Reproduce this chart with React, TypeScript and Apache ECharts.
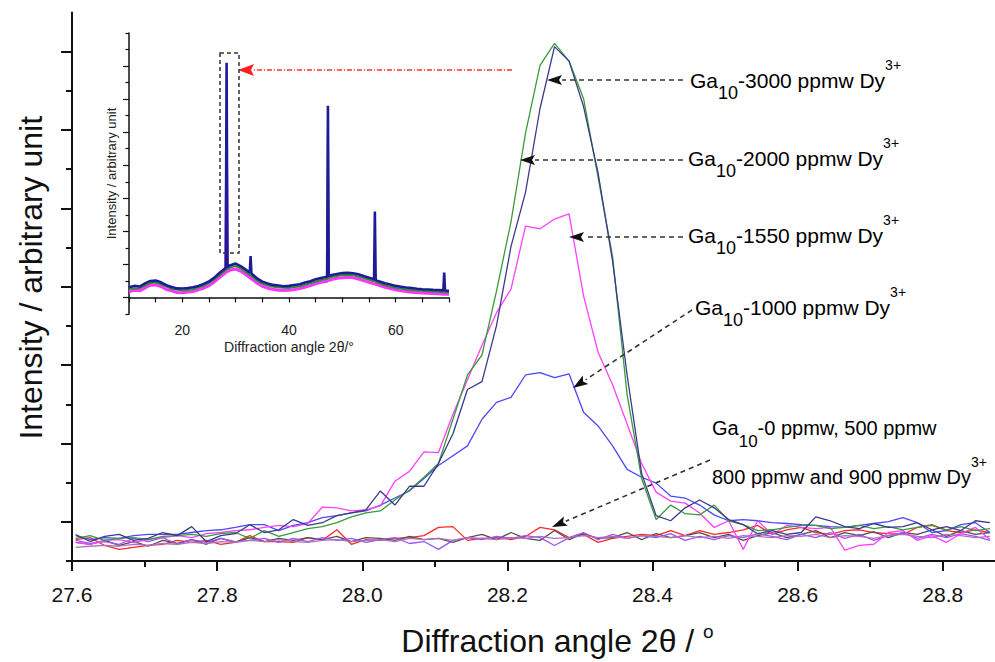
import React, { useEffect, useRef } from "react";
import * as echarts from "echarts";

// 2θ sampling of the main (zoomed) pattern, degrees
const angle = [
  27.605, 27.625, 27.645, 27.665, 27.685, 27.705, 27.725, 27.745, 27.765, 27.785,
  27.805, 27.825, 27.845, 27.865, 27.885, 27.905, 27.925, 27.945, 27.965, 27.985,
  28.005, 28.025, 28.045, 28.065, 28.085, 28.105, 28.125, 28.145, 28.165, 28.185,
  28.205, 28.225, 28.245, 28.265, 28.285, 28.305, 28.325, 28.345, 28.365, 28.385,
  28.405, 28.425, 28.445, 28.465, 28.485, 28.505, 28.525, 28.545, 28.565, 28.585,
  28.605, 28.625, 28.645, 28.665, 28.685, 28.705, 28.725, 28.745, 28.765, 28.785,
  28.805, 28.825, 28.845, 28.865,
];

// intensities (arbitrary units)
const ga3000 = [
  580, 650, 530, 580, 600, 550, 630, 650, 680, 630,
  700, 730, 580, 780, 630, 730, 830, 880, 980, 1130,
  1230, 1280, 1560, 1810, 2140, 2490, 3620, 4750, 5260, 6890,
  8660, 10920, 12650, 13210, 12760, 11800, 9790, 7770, 4250, 2110,
  1060, 1430, 1210, 1180, 1430, 1030, 930, 780, 800, 860,
  910, 910, 830, 860, 910, 830, 880, 800, 860, 910,
  800, 880, 780, 830,
];
const ga2000 = [
  680, 500, 630, 680, 530, 580, 730, 650, 880, 500,
  650, 700, 930, 730, 800, 1060, 910, 980, 1160, 1230,
  1310, 1790, 1430, 1910, 1910, 2490, 3250, 4380, 4580, 6010,
  8030, 9410, 11550, 13130, 12760, 11600, 9910, 7650, 4750, 2240,
  1160, 1030, 1360, 1560, 1360, 1060, 930, 700, 780, 680,
  730, 1130, 1030, 880, 830, 960, 860, 880, 980, 800,
  880, 780, 1030, 980,
];
const ga1550 = [
  480, 430, 530, 550, 480, 550, 600, 650, 600, 700,
  730, 780, 800, 860, 910, 880, 960, 1380, 1360, 1280,
  1310, 1410, 2040, 2290, 2790, 2770, 3750, 4630, 5510, 6340,
  6940, 8550, 8480, 8730, 8860, 6770, 5330, 4500, 3500, 2490,
  1760, 1530, 1480, 1230, 860, 1030, 300, 1030, 680, 910,
  860, 830, 860, 280, 400, 430, 730, 780, 530, 650,
  480, 700, 860, 550,
];
const ga1000 = [
  650, 550, 600, 580, 650, 680, 680, 680, 730, 780,
  800, 860, 930, 930, 780, 910, 980, 1110, 1160, 1230,
  1280, 1430, 1610, 1790, 2110, 2440, 2690, 2940, 3620, 4050,
  4180, 4750, 4810, 4680, 4780, 3800, 3450, 2940, 2340, 2140,
  1990, 1660, 1610, 1430, 1180, 1030, 1060, 1030, 980, 960,
  930, 910, 880, 860, 910, 960, 1010, 1110, 980, 730,
  780, 930, 980, 730,
];
const ga0 = [
  550, 600, 400, 300, 350, 400, 430, 530, 480, 530,
  430, 480, 650, 500, 500, 480, 600, 530, 800, 430,
  550, 530, 580, 600, 650, 860, 880, 530, 580, 600,
  550, 630, 860, 800, 600, 680, 480, 580, 630, 680,
  650, 780, 650, 780, 680, 730, 800, 910, 680, 800,
  860, 730, 680, 780, 800, 730, 700, 680, 860, 930,
  780, 730, 800, 730,
];
const ga500 = [
  480, 430, 530, 400, 500, 380, 530, 450, 550, 430,
  580, 480, 600, 500, 580, 530, 600, 550, 630, 500,
  600, 580, 530, 630, 550, 580, 480, 600, 680, 550,
  730, 580, 530, 780, 550, 700, 580, 600, 730, 550,
  700, 600, 650, 730, 600, 680, 530, 650, 730, 600,
  680, 780, 600, 730, 650, 750, 600, 730, 680, 800,
  630, 780, 680, 730,
];
const ga800 = [
  530, 450, 500, 430, 580, 500, 600, 430, 550, 480,
  580, 500, 530, 580, 480, 580, 500, 600, 530, 580,
  480, 550, 600, 450, 500, 300, 530, 600, 550, 630,
  580, 650, 600, 400, 600, 730, 550, 680, 580, 650,
  600, 700, 530, 630, 550, 650, 600, 700, 630, 550,
  680, 600, 730, 580, 680, 530, 650, 730, 580, 680,
  600, 700, 630, 530,
];
const ga900 = [
  350, 380, 400, 380, 430, 400, 450, 430, 480, 450,
  500, 480, 530, 500, 550, 500, 480, 530, 550, 500,
  530, 550, 500, 580, 550, 580, 530, 600, 580, 550,
  600, 580, 630, 580, 600, 650, 600, 630, 580, 650,
  630, 600, 650, 600, 630, 580, 650, 630, 600, 650,
  630, 680, 600, 650, 630, 580, 650, 680, 630, 600,
  680, 650, 600, 630,
];

// tick values
const xTickMajor = [27.6, 27.8, 28.0, 28.2, 28.4, 28.6, 28.8];
const xTickMinor = [27.7, 27.9, 28.1, 28.3, 28.5, 28.7];
const yTickMajor = [1000, 3000, 5000, 7000, 9000, 11000, 13000];
const yTickMinor = [0, 2000, 4000, 6000, 8000, 10000, 12000];

// inset: full-range pattern, [2θ, intensity]
const insetNavy = [
  [10, 0.62], [11, 0.7], [12, 0.66], [13, 0.85], [14, 1.0], [15, 1.02], [16, 0.92], [17, 0.74],
  [18, 0.64], [19, 0.55], [20, 0.54], [21, 0.57], [22, 0.62], [23, 0.7], [24, 0.82], [25, 0.97],
  [26, 1.2], [27, 1.5], [28, 1.75], [28.15, 1.8], [28.3, 14.2], [28.45, 1.85], [29, 1.95], [30, 2.05],
  [31, 1.88], [32, 1.66], [32.65, 1.5], [32.8, 2.5], [32.95, 1.45], [33, 1.42], [34, 1.16], [35, 0.96],
  [36, 0.84], [37, 0.76], [38, 0.72], [39, 0.68], [40, 0.7], [41, 0.75], [42, 0.8], [43, 0.9],
  [44, 0.98], [45, 1.1], [46, 1.18], [47.15, 1.25], [47.3, 11.6], [47.45, 1.3], [48, 1.36], [49, 1.42],
  [50, 1.48], [51, 1.5], [52, 1.47], [53, 1.4], [54, 1.3], [55, 1.2], [55.95, 1.1], [56.1, 5.2],
  [56.25, 1.05], [57, 0.96], [58, 0.86], [59, 0.78], [60, 0.7], [61, 0.65], [62, 0.6], [63, 0.57],
  [64, 0.53], [65, 0.5], [66, 0.48], [67, 0.46], [68, 0.45], [68.95, 0.43], [69.1, 1.5], [69.25, 0.42],
  [70, 0.4],
];
const insetGreen = [
  [10, 0.52], [12, 0.56], [14, 0.88], [15, 0.9], [16, 0.8], [18, 0.52], [20, 0.42], [22, 0.5],
  [24, 0.7], [26, 1.08], [27, 1.36], [28, 1.62], [28.15, 1.66], [28.3, 8.5], [28.45, 1.72], [29, 1.82],
  [30, 1.9], [31, 1.74], [32, 1.52], [33, 1.28], [34, 1.04], [35, 0.84], [36, 0.72], [38, 0.6],
  [40, 0.58], [42, 0.68], [44, 0.86], [46, 1.06], [47.15, 1.12], [47.3, 10.3], [47.45, 1.18], [48, 1.24],
  [50, 1.36], [51, 1.38], [52, 1.35], [54, 1.18], [55.95, 0.98], [56.1, 1.8], [56.25, 0.94], [58, 0.74],
  [60, 0.58], [62, 0.48], [64, 0.42], [66, 0.37], [68, 0.34], [70, 0.3],
];
const insetMagenta = [
  [10, 0.36], [11, 0.44], [12, 0.4], [13, 0.58], [14, 0.74], [15, 0.76], [16, 0.66], [17, 0.48],
  [18, 0.4], [19, 0.3], [20, 0.28], [21, 0.33], [22, 0.36], [23, 0.46], [24, 0.56], [25, 0.72],
  [26, 0.94], [27, 1.22], [28, 1.46], [28.15, 1.5], [28.3, 7.9], [28.45, 1.55], [29, 1.66], [30, 1.72],
  [31, 1.58], [32, 1.36], [33, 1.12], [34, 0.88], [35, 0.68], [36, 0.56], [37, 0.5], [38, 0.44],
  [39, 0.42], [40, 0.44], [41, 0.48], [42, 0.54], [43, 0.62], [44, 0.72], [45, 0.82], [46, 0.92],
  [47.15, 0.98], [47.3, 2.6], [47.45, 1.02], [48, 1.08], [49, 1.16], [50, 1.2], [51, 1.22], [52, 1.2],
  [53, 1.12], [54, 1.02], [55, 0.92], [56, 0.82], [57, 0.72], [58, 0.62], [59, 0.54], [60, 0.46],
  [61, 0.4], [62, 0.36], [63, 0.32], [64, 0.3], [65, 0.27], [66, 0.25], [67, 0.24], [68, 0.22],
  [69, 0.2], [70, 0.19],
];
const insetYMajor = [0, 2, 4, 6, 8, 10, 12, 14];
const insetYMinor = [-1, 1, 3, 5, 7, 9, 11, 13, 15, 16];
const insetXLabels = [20, 40, 60];

const FONT = "Liberation Sans, Arial, Helvetica, sans-serif";

const mainSeries = [
  { name: "0 ppmw", data: ga0, color: "#ff2a2a" },
  { name: "500 ppmw", data: ga500, color: "#505050" },
  { name: "800 ppmw", data: ga800, color: "#9a55f2" },
  { name: "900 ppmw", data: ga900, color: "#b070c0" },
  { name: "1000 ppmw", data: ga1000, color: "#4a4af5" },
  { name: "1550 ppmw", data: ga1550, color: "#ff40ff" },
  { name: "3000 ppmw", data: ga3000, color: "#3a9a3a" },
  { name: "2000 ppmw", data: ga2000, color: "#3a3a8c" },
];

const annotations = [
  { x: 690, y: 80, conc: "-3000 ppmw Dy" },
  { x: 688, y: 158, conc: "-2000 ppmw Dy" },
  { x: 688, y: 235, conc: "-1550 ppmw Dy" },
  { x: 695, y: 307, conc: "-1000 ppmw Dy" },
];

const makeRich = (size: number) => ({
  n: { fontSize: size, fontFamily: FONT, color: "#111", lineHeight: 44, verticalAlign: "middle" },
  s: { fontSize: size - 3, fontFamily: FONT, color: "#111", lineHeight: 22, verticalAlign: "bottom" },
  p: { fontSize: 14, fontFamily: FONT, color: "#111", lineHeight: 18, verticalAlign: "top" },
});

function arrowHead(tip: number[], from: number[], len: number, half: number, red: boolean) {
  const dx = from[0] - tip[0];
  const dy = from[1] - tip[1];
  const d = Math.sqrt(dx * dx + dy * dy);
  const ux = dx / d;
  const uy = dy / d;
  const bx = tip[0] + ux * len;
  const by = tip[1] + uy * len;
  return [
    {
      type: "polygon",
      shape: { points: [tip, [bx - uy * half, by + ux * half], [bx - ux * 3, by - uy * 3], [bx + uy * half, by - ux * half]] },
      style: { fill: red ? "#ff2020" : "#111" },
      z: 100,
    },
    {
      type: "line",
      shape: { x1: from[0], y1: from[1], x2: bx, y2: by },
      style: { stroke: red ? "#ff3030" : "#333", lineWidth: 1.6, lineDash: red ? [5, 2, 1, 2] : [5, 4] },
      z: 99,
    },
  ];
}

export default function App() {
  const ref = useRef<HTMLDivElement>(null);
  useEffect(() => {
    if (!ref.current) return;
    const chart = echarts.init(ref.current, undefined, { renderer: "svg" });

    const graphics: any[] = [];
    annotations.forEach((a) => {
      graphics.push({
        type: "text",
        x: a.x,
        y: a.y,
        z: 100,
        style: {
          text: "{n|Ga}{s|10}{n|" + a.conc + "}{p|3+}",
          rich: makeRich(21),
          align: "left",
          verticalAlign: "middle",
        },
      });
    });
    graphics.push({
      type: "text",
      x: 712,
      y: 428,
      z: 100,
      style: { text: "{n|Ga}{s|10}{n|-0 ppmw, 500 ppmw}", rich: makeRich(20), align: "left", verticalAlign: "middle" },
    });
    graphics.push({
      type: "text",
      x: 712,
      y: 477,
      z: 100,
      style: { text: "{n|800 ppmw and 900 ppmw Dy}{p|3+}", rich: makeRich(20), align: "left", verticalAlign: "middle" },
    });
    graphics.push(...arrowHead([547, 80], [683, 80], 15, 5, false));
    graphics.push(...arrowHead([520, 160], [683, 160], 15, 5, false));
    graphics.push(...arrowHead([569, 237], [683, 237], 15, 5, false));
    graphics.push(...arrowHead([573, 388], [692, 310], 15, 5, false));
    graphics.push(...arrowHead([552, 527], [710, 460], 15, 5, false));
    graphics.push(...arrowHead([238, 70], [512, 70], 16, 6, true));
    graphics.push({
      type: "rect",
      shape: { x: 220, y: 53, width: 19, height: 200 },
      style: { fill: "none", stroke: "#333", lineWidth: 1.5, lineDash: [4, 3] },
      z: 100,
    });

    const axisLineStyle = { color: "#111", width: 2 };

    chart.setOption({
      animation: false,
      backgroundColor: "#fff",
      graphic: graphics,
      grid: [
        { left: 72, top: 12.5, width: 923, height: 562.5 },
        { left: 129, top: 33, width: 320, height: 281 },
      ],
      xAxis: [
        {
          type: "value",
          gridIndex: 0,
          position: "bottom",
          min: 27.6,
          max: 28.872,
          axisLine: { lineStyle: axisLineStyle },
          axisTick: { customValues: xTickMajor, length: 10, lineStyle: { color: "#111", width: 2 } },
          axisLabel: {
            customValues: xTickMajor,
            formatter: (v: number) => v.toFixed(1),
            fontSize: 21,
            fontFamily: FONT,
            color: "#111",
            margin: 17,
          },
          splitLine: { show: false },
          name: "{a|Diffraction angle 2θ / }{s|o}",
          nameLocation: "middle",
          nameGap: 55,
          nameTextStyle: {
            padding: [0, 0, 0, 48],
            rich: {
              a: { fontSize: 32, fontFamily: FONT, color: "#111", lineHeight: 38, verticalAlign: "middle" },
              s: { fontSize: 19, fontFamily: FONT, color: "#111", lineHeight: 20, verticalAlign: "top" },
            },
          },
        },
        {
          type: "value",
          gridIndex: 0,
          position: "bottom",
          min: 27.6,
          max: 28.872,
          axisLine: { show: false },
          axisTick: { customValues: xTickMinor, length: 6, lineStyle: { color: "#111", width: 2 } },
          axisLabel: { show: false },
          splitLine: { show: false },
        },
        {
          type: "value",
          gridIndex: 1,
          position: "bottom",
          min: 10,
          max: 70,
          interval: 5,
          axisLine: { lineStyle: { color: "#111", width: 1.5 } },
          axisTick: { length: 5, lineStyle: { color: "#111", width: 1.2 } },
          axisLabel: {
            customValues: insetXLabels,
            fontSize: 14,
            fontFamily: FONT,
            color: "#222",
            margin: 9,
          },
          splitLine: { show: false },
          name: "Diffraction angle 2θ/°",
          nameLocation: "middle",
          nameGap: 26,
          nameTextStyle: { fontSize: 14, fontFamily: FONT, color: "#222" },
        },
      ],
      yAxis: [
        {
          type: "value",
          gridIndex: 0,
          position: "left",
          min: -150,
          max: 14000,
          axisLine: { show: true, lineStyle: axisLineStyle },
          axisTick: { show: true, customValues: yTickMajor, length: 11, lineStyle: { color: "#111", width: 2 } },
          axisLabel: { show: false },
          splitLine: { show: false },
          name: "Intensity / arbitrary unit",
          nameLocation: "middle",
          nameGap: 25,
          nameTextStyle: { fontSize: 32, fontFamily: FONT, color: "#111", padding: [0, 0, 0, 24] },
        },
        {
          type: "value",
          gridIndex: 0,
          position: "left",
          min: -150,
          max: 14000,
          axisLine: { show: false },
          axisTick: { show: true, customValues: yTickMinor, length: 6, lineStyle: { color: "#111", width: 2 } },
          axisLabel: { show: false },
          splitLine: { show: false },
        },
        {
          type: "value",
          gridIndex: 1,
          position: "left",
          min: -1,
          max: 16,
          axisLine: { show: true, lineStyle: { color: "#111", width: 1.5 } },
          axisTick: { show: true, customValues: insetYMajor, length: 6, lineStyle: { color: "#111", width: 1.2 } },
          axisLabel: { show: false },
          splitLine: { show: false },
          name: "Intensity / arbitrary unit",
          nameLocation: "middle",
          nameGap: 11,
          nameTextStyle: { fontSize: 13, fontFamily: FONT, color: "#222" },
        },
        {
          type: "value",
          gridIndex: 1,
          position: "left",
          min: -1,
          max: 16,
          axisLine: { show: false },
          axisTick: { show: true, customValues: insetYMinor, length: 3.5, lineStyle: { color: "#111", width: 1.2 } },
          axisLabel: { show: false },
          splitLine: { show: false },
        },
      ],
      series: [
        ...mainSeries.map((s) => ({
          type: "line",
          name: s.name,
          xAxisIndex: 0,
          yAxisIndex: 0,
          data: angle.map((a, i) => [a, s.data[i]]),
          showSymbol: false,
          symbol: "none",
          lineStyle: { color: s.color, width: 1.3 },
          itemStyle: { color: s.color },
          clip: true,
        })),
        {
          type: "line",
          name: "inset magenta",
          xAxisIndex: 2,
          yAxisIndex: 2,
          data: insetMagenta,
          symbol: "none",
          lineStyle: { color: "#ff33ff", width: 3 },
        },
        {
          type: "line",
          name: "inset green",
          xAxisIndex: 2,
          yAxisIndex: 2,
          data: insetGreen,
          symbol: "none",
          lineStyle: { color: "#2e8b2e", width: 2 },
        },
        {
          type: "line",
          name: "inset navy",
          xAxisIndex: 2,
          yAxisIndex: 2,
          data: insetNavy,
          symbol: "none",
          lineStyle: { color: "#1c1c96", width: 2.6 },
        },
      ],
    });
    return () => chart.dispose();
  }, []);
  return (
    <div
      ref={ref}
      style={{ position: "absolute", left: 0, top: 0, width: 995, height: 662, background: "#fff" }}
    />
  );
}
